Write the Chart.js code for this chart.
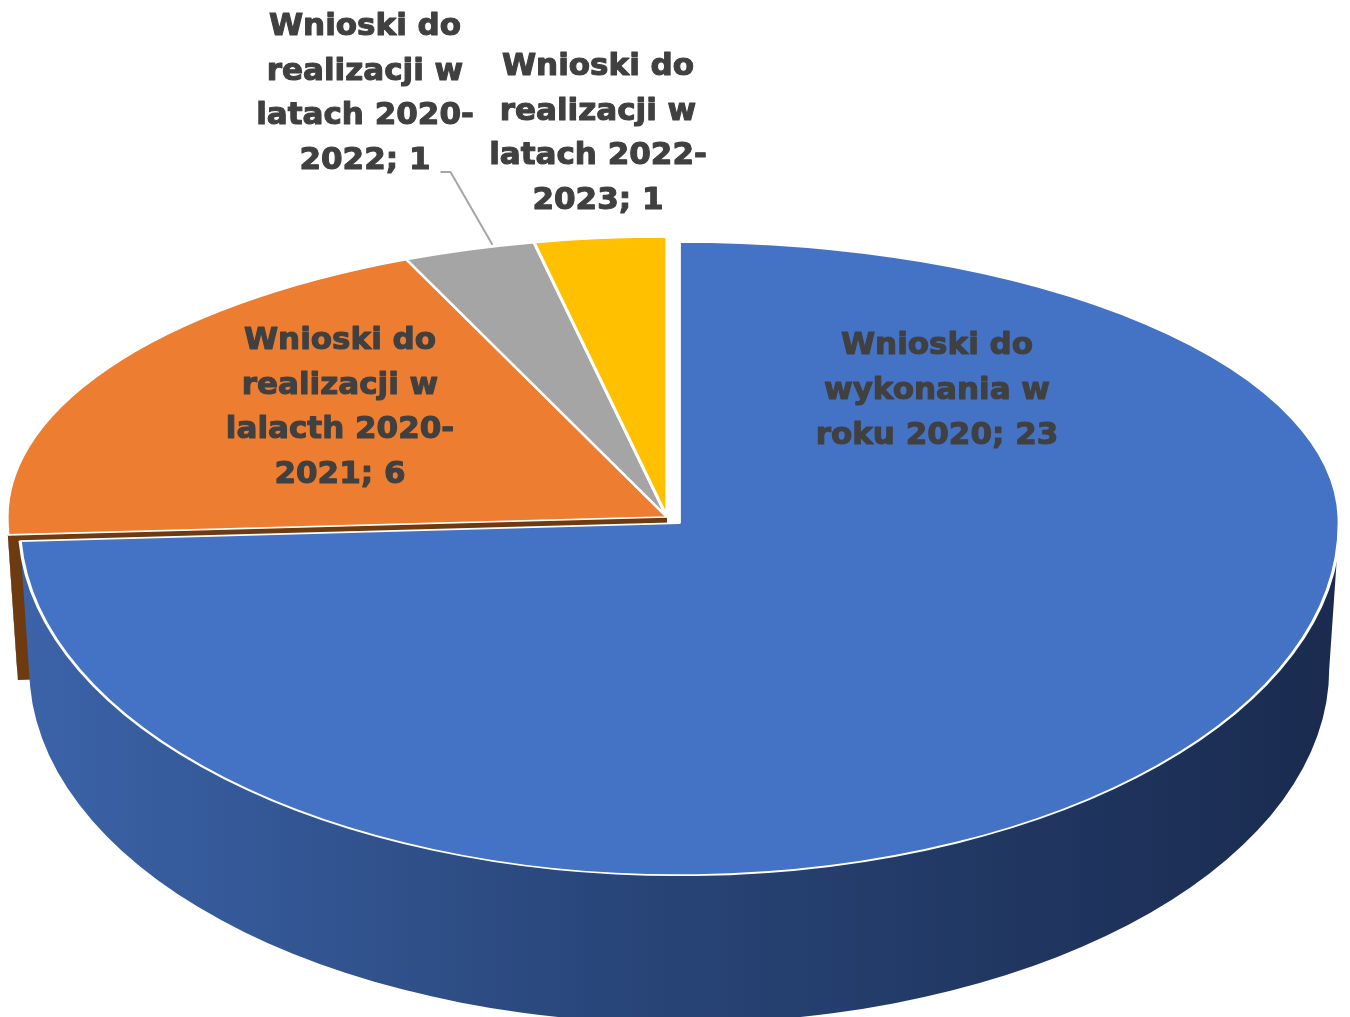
<!DOCTYPE html>
<html>
<head>
<meta charset="utf-8">
<script src="https://cdn.jsdelivr.net/npm/chart.js@4.4.0/dist/chart.umd.min.js"></script>
<style>
  html, body { margin: 0; padding: 0; background: #ffffff; }
  #wrap { position: relative; width: 1350px; height: 1017px; }
</style>
</head>
<body>
<div id="wrap"><canvas id="pieChart"></canvas></div>
<script>
// Chart data
const categories = [
    'Wnioski do wykonania w roku 2020',
    'Wnioski do realizacji w lalacth 2020-2021',
    'Wnioski do realizacji w latach 2020-2022',
    'Wnioski do realizacji w latach 2022-2023'
];
const counts = [23, 6, 1, 1];

// Slice colours: top face, visible side face
const topColors = ['#4472c4', '#ed7d31', '#a5a5a5', '#ffc000'];
const sideColors = ['gradient', '#6e3a10', '#6b6b6b', '#a67c00'];

// 3D look: projected ellipse of the top face and the depth of the cake
const view = {
    cx: 667, cy: 517,
    rx: 660, ryBack: 280, ryFront: 352,
    depth: 145, rxBottom: 650, ryBottomFront: 355, ryBottomBack: 275
};
const explodeDist = [13, 0, 0, 0];   // pulled-out slice, in chart pixels

// Label placement (screen centre of each text block)
const labelCenters = [[937, 391], [340, 408], [365, 94], [598, 134]];
const leaderFor = [false, false, true, false];
const labelFont = 'bold 31px "DejaVu Sans"';
const lineHeight = 44.7;

function geometry(chart) {
    const arc = chart.getDatasetMeta(0).data[0];
    const R = arc.outerRadius;
    return { x0: arc.x, y0: arc.y, R: R, sx: view.rx / R, syB: view.ryBack / R, syF: view.ryFront / R };
}

function screenOffset(arc, i, g) {
    const m = (arc.startAngle + arc.endAngle) / 2;
    return [Math.cos(m) * explodeDist[i] * g.sx, Math.sin(m) * explodeDist[i] * g.syF];
}

function sideFill(ctx, i) {
    if (sideColors[i] !== 'gradient') return sideColors[i];
    const grad = ctx.createLinearGradient(view.cx - view.rx, 0, view.cx + view.rx, 0);
    grad.addColorStop(0, '#3c64aa');
    grad.addColorStop(0.45, '#29467a');
    grad.addColorStop(1, '#1a2b4f');
    return grad;
}

function rimPoint(a, ox, oy, bottom) {
    const s = Math.sin(a);
    if (bottom) {
        const ry = s > 0 ? view.ryBottomFront : view.ryBottomBack;
        return [view.cx + ox + view.rxBottom * Math.cos(a), view.cy + oy + view.depth + ry * s];
    }
    const ry = s > 0 ? view.ryFront : view.ryBack;
    return [view.cx + ox + view.rx * Math.cos(a), view.cy + oy + ry * s];
}

const cakePlugin = {
    id: 'cake3d',
    beforeDatasetsDraw(chart) {
        const ctx = chart.ctx;
        const meta = chart.getDatasetMeta(0);
        const g = geometry(chart);
        const n = meta.data.length;

        // radial cut faces: only seen next to a pulled-out slice, and only if facing the viewer
        meta.data.forEach((arc, i) => {
            const [ox, oy] = screenOffset(arc, i, g);
            const prevOut = explodeDist[(i - 1 + n) % n] > 0 || explodeDist[i] > 0;
            const nextOut = explodeDist[(i + 1) % n] > 0 || explodeDist[i] > 0;
            const faces = [
                [arc.startAngle, prevOut && Math.cos(arc.startAngle) < 0],
                [arc.endAngle, nextOut && Math.cos(arc.endAngle) > 0]
            ];
            faces.forEach(([a, vis]) => {
                if (!vis) return;
                const t = rimPoint(a, ox, oy, false);
                const b = rimPoint(a, ox, oy, true);
                ctx.save();
                ctx.beginPath();
                ctx.moveTo(view.cx + ox, view.cy + oy);
                ctx.lineTo(t[0], t[1]);
                ctx.lineTo(b[0], b[1]);
                ctx.lineTo(view.cx + ox, view.cy + oy + view.depth);
                ctx.closePath();
                ctx.fillStyle = sideFill(ctx, i);
                ctx.fill();
                ctx.restore();
            });
        });

        // outer rim sides on the front half
        meta.data.forEach((arc, i) => {
            const a = Math.max(arc.startAngle, 0);
            const b = Math.min(arc.endAngle, Math.PI);
            if (b <= a) return;
            const [ox, oy] = screenOffset(arc, i, g);
            ctx.save();
            ctx.beginPath();
            ctx.ellipse(view.cx + ox, view.cy + oy, view.rx, view.ryFront, 0, a, b, false);
            ctx.ellipse(view.cx + ox, view.cy + oy + view.depth, view.rxBottom, view.ryBottomFront, 0, b, a, true);
            ctx.closePath();
            ctx.fillStyle = sideFill(ctx, i);
            ctx.fill();
            ctx.restore();
        });

        // top faces: back half and front half squashed by different amounts
        const halves = [
            { sy: g.syB, clip: [0, 0, chart.width, view.cy] },
            { sy: g.syF, clip: [0, view.cy, chart.width, chart.height - view.cy] }
        ];
        halves.forEach(h => {
            ctx.save();
            ctx.beginPath();
            ctx.rect(h.clip[0], h.clip[1], h.clip[2], h.clip[3]);
            ctx.clip();
            ctx.translate(view.cx, view.cy);
            ctx.scale(g.sx, h.sy);
            ctx.translate(-g.x0, -g.y0);
            meta.data.forEach((arc, i) => {
                const m = (arc.startAngle + arc.endAngle) / 2;
                ctx.save();
                ctx.translate(Math.cos(m) * explodeDist[i], Math.sin(m) * explodeDist[i]);
                arc.draw(ctx);
                ctx.restore();
            });
            ctx.restore();
        });
        return false;
    },
    afterDraw(chart) {
        const ctx = chart.ctx;
        const meta = chart.getDatasetMeta(0);
        ctx.save();
        ctx.font = labelFont;
        ctx.fillStyle = '#404040';
        ctx.strokeStyle = '#404040';
        ctx.lineWidth = 1.1;
        ctx.lineJoin = 'round';
        ctx.textAlign = 'center';
        ctx.textBaseline = 'middle';
        categories.forEach((name, i) => {
            const lines = wrapLabel(ctx, name + '; ' + counts[i], 250);
            const [lx, ly] = labelCenters[i];
            const top = ly - (lines.length - 1) / 2 * lineHeight;
            lines.forEach((ln, k) => {
                ctx.fillText(ln, lx, top + k * lineHeight);
                ctx.strokeText(ln, lx, top + k * lineHeight);
            });

            if (leaderFor[i]) {
                const last = lines[lines.length - 1];
                const endY = top + (lines.length - 1) * lineHeight;
                const sx = lx + ctx.measureText(last).width / 2 + 10;
                const arc = meta.data[i];
                const m = (arc.startAngle + arc.endAngle) / 2;
                const p = rimPoint(m, 0, 0, false);
                ctx.save();
                ctx.beginPath();
                ctx.moveTo(sx, endY + 11);
                ctx.lineTo(sx + 10, endY + 11);
                ctx.lineTo(p[0] + 23, p[1] - 5);
                ctx.strokeStyle = '#a6a6a6';
                ctx.lineWidth = 2;
                ctx.stroke();
                ctx.restore();
            }
        });
        ctx.restore();
    }
};

// word wrap that also breaks after a hyphen
function wrapLabel(ctx, text, maxWidth) {
    const tokens = [];
    text.split(' ').forEach(word => {
        const parts = word.split(/(?<=-)/);
        parts.forEach((p, k) => tokens.push({ text: p, space: k === 0 }));
    });
    const lines = [];
    let cur = '';
    tokens.forEach(t => {
        const next = cur === '' ? t.text : cur + (t.space ? ' ' : '') + t.text;
        if (cur !== '' && ctx.measureText(next).width > maxWidth) {
            lines.push(cur);
            cur = t.text;
        } else {
            cur = next;
        }
    });
    if (cur) lines.push(cur);
    return lines;
}

const ctx = document.getElementById('pieChart').getContext('2d');
new Chart(ctx, {
    type: 'pie',
    data: {
        labels: categories,
        datasets: [{
            data: counts,
            backgroundColor: topColors,
            borderColor: '#ffffff',
            borderWidth: 2.5
        }]
    },
    options: {
        responsive: true,
        maintainAspectRatio: false,
        animation: false,
        devicePixelRatio: 1,
        events: [],
        layout: { padding: 0 },
        plugins: {
            legend: { display: false },
            tooltip: { enabled: false }
        }
    },
    plugins: [cakePlugin]
});
</script>
</body>
</html>
